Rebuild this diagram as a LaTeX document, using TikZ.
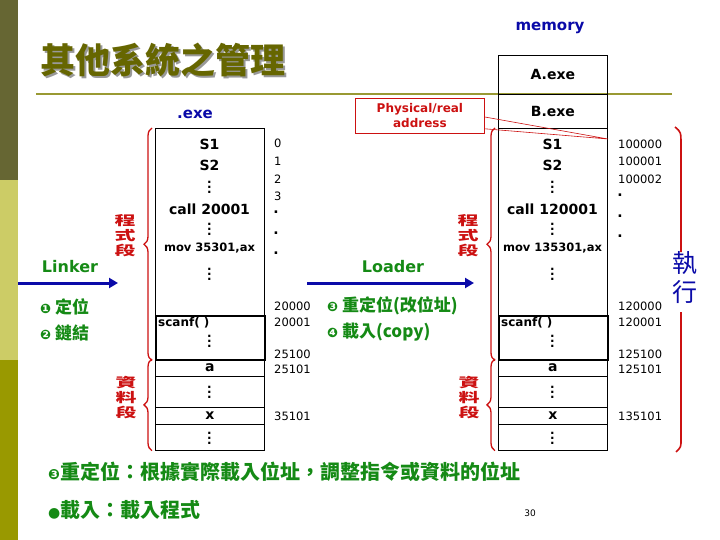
\documentclass[tikz,border=0pt]{standalone}
\usepackage{fontspec}
\usepackage{graphicx}
\setmainfont{DejaVu Sans}
\newfontfamily\cjk{Noto Sans CJK TC}
\newfontfamily\dingfont{DejaVu Sans}
\usetikzlibrary{positioning,arrows.meta,decorations.pathreplacing}
\definecolor{barDark}{HTML}{666633}
\definecolor{barLight}{HTML}{CCCC66}
\definecolor{barOlive}{HTML}{999900}
\definecolor{titleOlive}{HTML}{666600}
\definecolor{ruleOlive}{HTML}{999933}
\definecolor{segRed}{HTML}{CC1111}
\definecolor{stepGreen}{HTML}{158A15}
\definecolor{memBlue}{HTML}{0A0AA8}
\newcommand{\vdts}{\vbox{\baselineskip5pt\lineskiplimit0pt\hbox{.}\hbox{.}\hbox{.}}}
\newcommand{\vstack}[1]{\scalebox{1}[0.62]{\begin{tabular}{@{}c@{}}#1\end{tabular}}}

\begin{document}
\begin{tikzpicture}[x=1pt,y=-1pt,
    cell/.style={draw,line width=0.7pt,minimum width=109pt,inner sep=0pt,anchor=north west},
    code/.style={font=\bfseries\fontsize{14}{16}\selectfont,inner sep=0pt},
    addr/.style={font=\fontsize{11.5}{13}\selectfont,anchor=west,inner sep=0pt},
    seg/.style={segRed,line width=1.3pt,decorate,decoration={brace,amplitude=8pt}},
    seglabel/.style={text=segRed,font=\cjk\bfseries\fontsize{21}{21}\selectfont,inner sep=0pt},
    flow/.style={memBlue,line width=3pt,-{Triangle[length=9pt,width=10pt]}},
    tool/.style={text=stepGreen,font=\bfseries\fontsize{16}{18}\selectfont},
    note/.style={text=stepGreen,font=\cjk\bfseries\fontsize{17}{20}\selectfont,anchor=west,inner sep=0pt}]
  \useasboundingbox (0,0) rectangle (720,540);
  % side bar and title
  \fill[barDark] (0,0) rectangle (17.5,180);
  \fill[barLight] (0,180) rectangle (17.5,360);
  \fill[barOlive] (0,360) rectangle (17.5,540);
  \node[text=black!40,font=\cjk\bfseries\fontsize{35}{35}\selectfont] (titleshadow) at (165,62) {其他系統之管理};
  \node[text=titleOlive,font=\cjk\bfseries\fontsize{35}{35}\selectfont] (title) at (163,60) {其他系統之管理};
  \draw[ruleOlive,line width=2pt] (36,94) -- (672,94);

  % memory header
  \node[text=memBlue,font=\bfseries\fontsize{15}{17}\selectfont] (memory) at (550,28) {memory};
  \node[cell,code,minimum height=39pt] (mA) at (498,55) {A.exe};
  \node[cell,code,minimum height=34pt] (mB) at (498,94) {B.exe};
  \node[text=memBlue,font=\bfseries\fontsize{15}{17}\selectfont] (exe) at (195,114) {.exe};

  % program image on disk (l) and in memory (m)
  \foreach \p/\lx/\callno/\movno in {l/155/20001/35301, m/498/120001/135301}{
    \node[cell,minimum height=187pt] (\p prog) at (\lx,128) {};
    \node[cell,minimum height=44pt,line width=1.6pt] (\p scan) at (\lx,315) {};
    \node[cell,code,minimum height=17pt] (\p a) at (\lx,359) {a};
    \node[cell,minimum height=31pt] (\p d1) at (\lx,376) {};
    \node[cell,code,minimum height=17pt] (\p x) at (\lx,407) {x};
    \node[cell,minimum height=26pt] (\p d2) at (\lx,424) {};
    \node[code] (\p s1) at (\lx+54.5,144) {S1};
    \node[code] (\p s2) at (\lx+54.5,165) {S2};
    \node[code] (\p call) at (\lx+54.5,209) {call \callno};
    \node[code,font=\bfseries\fontsize{11.5}{13}\selectfont] (\p mov) at (\lx+54.5,248) {mov \movno,ax};
    \node[code,font=\bfseries\fontsize{12}{14}\selectfont,anchor=west] (\p scanf) at (\lx+3,323) {scanf( )};
    \foreach \v/\vy in {1/187,2/229,3/274,4/341,5/392,6/438}
      \node[font=\bfseries\fontsize{12}{12}\selectfont,inner sep=0pt] (\p v\v) at (\lx+54.5,\vy) {\vdts};
    \draw[seg] ([xshift=-3pt]\p scan.south west) -- ([xshift=-3pt]\p prog.north west);
    \draw[seg] ([xshift=-3pt]\p d2.south west) -- ([xshift=-3pt]\p a.north west);
    \node[seglabel] (\p plab) at (\lx-30,237) {\vstack{程\\式\\段}};
    \node[seglabel] (\p dlab) at (\lx-29,399) {\vstack{資\\料\\段}};
  }

  % addresses
  \foreach \t/\ty in {0/143,1/161,2/179,3/196,20000/306,20001/322,25100/354,25101/369,35101/416}
    \node[addr] (la\t) at (274,\ty) {\t};
  \foreach \k/\ty in {1/212,2/233,3/253}
    \node[code] (ldot\k) at (276,\ty) {.};
  \foreach \t/\ty in {100000/144,100001/161,100002/179,120000/306,120001/322,125100/354,125101/369,135101/416}
    \node[addr] (ra\t) at (618,\ty) {\t};
  \foreach \k/\ty in {1/195,2/216,3/236}
    \node[code] (rdot\k) at (620,\ty) {.};

  % physical address callout
  \node[draw=segRed,line width=0.8pt,anchor=north west,minimum width=129pt,minimum height=35pt,
        inner sep=0pt,text=segRed,font=\bfseries\fontsize{12}{15}\selectfont,align=center] (phys) at (355,98) {Physical/real\\address};
  \coordinate (tip) at (608,139);
  \draw[segRed,line width=0.6pt] ([yshift=-19pt]phys.north east) -- (tip) -- ([yshift=5pt]phys.south east);

  % linker and loader
  \node[tool] (linker) at (70,267) {Linker};
  \coordinate (lk0) at (18,283);
  \coordinate (lk1) at (118,283);
  \draw[flow] (lk0) -- (lk1);
  \node[tool] (loader) at (393,267) {Loader};
  \coordinate (ld0) at (307,283);
  \coordinate (ld1) at (474,283);
  \draw[flow] (ld0) -- (ld1);
  \node[note] (n1) at (40,307) {{\dingfont\fontsize{13}{13}\selectfont ❶} 定位};
  \node[note] (n2) at (40,333) {{\dingfont\fontsize{13}{13}\selectfont ❷} 鏈結};
  \node[note] (n3) at (327,306) {{\dingfont\fontsize{13}{13}\selectfont ❸} 重定位(改位址)};
  \node[note] (n4) at (327,332) {{\dingfont\fontsize{13}{13}\selectfont ❹} 載入(copy)};

  % execution
  \node[text=memBlue,font=\cjk\fontsize{25}{26}\selectfont,inner sep=0pt] (exec) at (685,280) {\begin{tabular}{@{}c@{}}執\\行\end{tabular}};
  \draw[segRed,line width=1.6pt] (675,127) .. controls (681,132) .. (681,145) -- (681,252);
  \draw[segRed,line width=1.6pt] (681,312) -- (681,440) .. controls (681,447) .. (676,452);

  % footnotes
  \node[note,font=\cjk\bfseries\fontsize{20}{22}\selectfont] (b1) at (48,472) {{\dingfont\fontsize{14}{14}\selectfont ❸}重定位：根據實際載入位址，調整指令或資料的位址};
  \node[note,font=\cjk\bfseries\fontsize{20}{22}\selectfont] (b2) at (48,510) {{\dingfont\fontsize{14}{14}\selectfont ●}載入：載入程式};
  \node[font=\fontsize{9}{10}\selectfont] (page) at (530,513) {30};
\end{tikzpicture}
\end{document}
